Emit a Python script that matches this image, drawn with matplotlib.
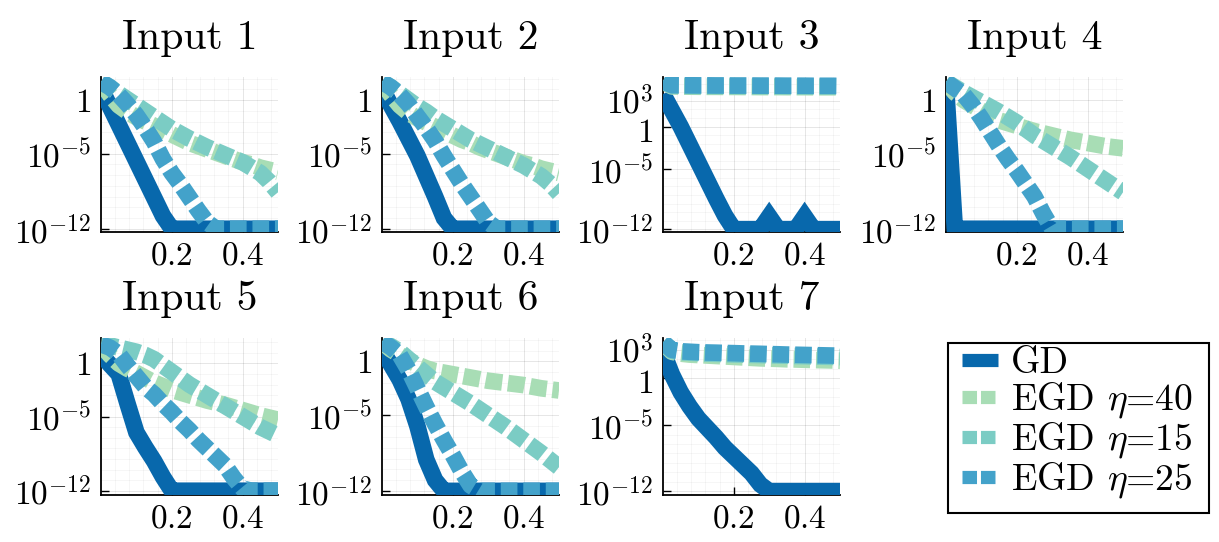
import numpy as np
import matplotlib
matplotlib.use("Agg")
import matplotlib.pyplot as plt
import matplotlib.transforms as mtransforms
from matplotlib.ticker import FixedLocator, NullFormatter
from matplotlib.lines import Line2D
from matplotlib.patches import Rectangle

plt.rcParams['font.family'] = 'cmr10'
plt.rcParams['mathtext.fontset'] = 'cm'
plt.rcParams['axes.formatter.use_mathtext'] = True

# ---------------- data (log10 of the plotted values) ----------------
x = [0.0, 0.025, 0.05, 0.075, 0.1, 0.125, 0.15, 0.175, 0.2, 0.225, 0.25,
     0.275, 0.3, 0.325, 0.35, 0.375, 0.4, 0.425, 0.45, 0.475, 0.5]

titles = ["Input 1", "Input 2", "Input 3", "Input 4", "Input 5", "Input 6", "Input 7"]
series_labels = ["GD", r"EGD $\eta$=40", r"EGD $\eta$=15", r"EGD $\eta$=25"]

gd_1 = [1.1, -0.6, -2.3, -4.0, -5.7, -7.4, -9.1, -10.8, -12, -12, -12, -12, -12, -12, -12, -12, -12, -12, -12, -12, -12]
egd40_1 = [1.7, 0.5, -0.5, -1.1, -1.6, -2.0, -2.4, -2.8, -3.2, -3.6, -4.0, -4.3, -4.6, -4.9, -5.2, -5.5, -5.8, -6.0, -6.3, -6.5, -6.7]
egd15_1 = [1.7, 1.2, 0.6, 0.05, -0.5, -1.05, -1.6, -2.15, -2.7, -3.15, -3.6, -4.0, -4.4, -4.75, -5.1, -5.45, -5.8, -6.3, -6.8, -7.6, -8.6]
egd25_1 = [1.7, 1.2, 0.5, -0.4, -1.4, -2.6, -3.9, -5.5, -6.8, -7.9, -9.1, -10.3, -11.4, -12, -12, -12, -12, -12, -12, -12, -12]

gd_2 = [1.1, -0.5, -2.0, -3.6, -5.2, -7.1, -9.0, -11.0, -12, -12, -12, -12, -12, -12, -12, -12, -12, -12, -12, -12, -12]
egd40_2 = [1.7, 0.5, -0.5, -1.2, -1.7, -2.1, -2.5, -2.9, -3.3, -3.7, -4.0, -4.4, -4.7, -5.0, -5.3, -5.6, -5.9, -6.1, -6.4, -6.6, -6.8]
egd15_2 = [1.7, 1.2, 0.6, 0.0, -0.6, -1.1, -1.7, -2.2, -2.7, -3.2, -3.7, -4.1, -4.5, -4.9, -5.3, -5.7, -6.1, -6.6, -7.1, -7.8, -8.7]
egd25_2 = [1.7, 1.2, 0.5, -0.4, -1.5, -2.6, -3.8, -5.2, -6.5, -7.8, -9.0, -10.2, -11.4, -12, -12, -12, -12, -12, -12, -12, -12]

gd_3 = [3.8, 1.9, 0.0, -2.1, -4.2, -6.3, -8.4, -10.4, -12, -12, -12, -12, -10.5, -12, -12, -12, -10.5, -12, -12, -12, -12]
egd40_3 = [5.3, 4.7, 4.68, 4.67, 4.66, 4.65, 4.65, 4.64, 4.64, 4.63, 4.63, 4.62, 4.62, 4.62, 4.61, 4.61, 4.61, 4.6, 4.6, 4.6, 4.6]
egd15_3 = [5.3, 4.78, 4.77, 4.76, 4.75, 4.75, 4.74, 4.74, 4.74, 4.73, 4.73, 4.73, 4.72, 4.72, 4.72, 4.72, 4.71, 4.71, 4.71, 4.71, 4.7]
egd25_3 = [5.3, 4.85, 4.84, 4.83, 4.82, 4.82, 4.81, 4.81, 4.8, 4.8, 4.8, 4.79, 4.79, 4.79, 4.78, 4.78, 4.78, 4.77, 4.77, 4.77, 4.76]

gd_4 = [1.3, -12, -12, -12, -12, -12, -12, -12, -12, -12, -12, -12, -12, -12, -12, -12, -12, -12, -12, -12, -12]
egd40_4 = [1.7, 0.7, 0.0, -0.5, -1.0, -1.45, -1.9, -2.15, -2.4, -2.65, -2.9, -3.1, -3.3, -3.5, -3.7, -3.85, -4.0, -4.15, -4.3, -4.4, -4.5]
egd15_4 = [1.7, 1.2, 0.7, 0.25, -0.2, -0.65, -1.1, -1.6, -2.1, -2.7, -3.3, -3.8, -4.3, -4.8, -5.3, -5.85, -6.4, -6.95, -7.5, -8.05, -8.6]
egd25_4 = [1.7, 1.1, 0.5, -0.5, -1.7, -3.0, -4.3, -5.5, -6.6, -7.8, -9.0, -10.6, -12, -12, -12, -12, -12, -12, -12, -12, -12]

gd_5 = [0.9, -0.1, -1.0, -3.8, -6.5, -7.9, -9.2, -10.7, -12, -12, -12, -12, -12, -12, -12, -12, -12, -12, -12, -12, -12]
egd40_5 = [1.8, 0.8, 0.0, -0.5, -0.9, -1.35, -1.8, -2.15, -2.5, -2.75, -3.0, -3.25, -3.5, -3.7, -3.9, -4.15, -4.4, -4.65, -4.9, -5.1, -5.3]
egd15_5 = [1.8, 1.7, 1.5, 1.3, 1.1, 0.8, 0.4, -0.2, -0.8, -1.4, -2.0, -2.5, -3.0, -3.5, -4.0, -4.5, -5.0, -5.5, -6.0, -6.4, -6.8]
egd25_5 = [1.8, 1.5, 0.9, -0.2, -1.2, -2.2, -2.9, -3.8, -4.6, -5.5, -6.3, -7.2, -8.0, -8.8, -9.6, -10.8, -11.8, -12, -12, -12, -12]

gd_6 = [1.0, -0.3, -1.7, -3.5, -6.0, -9.1, -11.0, -12, -12, -12, -12, -12, -12, -12, -12, -12, -12, -12, -12, -12, -12]
egd40_6 = [1.8, 1.1, 0.6, 0.1, -0.3, -0.65, -0.9, -1.05, -1.2, -1.35, -1.5, -1.65, -1.8, -1.9, -2.0, -2.1, -2.2, -2.35, -2.5, -2.6, -2.7]
egd15_6 = [1.8, 1.4, 0.9, 0.2, -0.5, -1.2, -1.9, -2.4, -2.9, -3.4, -3.9, -4.45, -5.0, -5.55, -6.1, -6.7, -7.3, -7.9, -8.5, -9.15, -9.8]
egd25_6 = [1.8, 1.3, 0.6, -0.8, -2.5, -4.2, -5.8, -7.3, -8.7, -10.2, -11.5, -12, -12, -12, -12, -12, -12, -12, -12, -12, -12]

gd_7 = [2.8, 0.4, -1.5, -3.0, -4.3, -5.3, -6.3, -7.4, -8.3, -9.2, -10.1, -11.3, -12, -12, -12, -12, -12, -12, -12, -12, -12]
egd40_7 = [3.8, 2.8, 2.6, 2.5, 2.45, 2.4, 2.35, 2.3, 2.25, 2.2, 2.15, 2.1, 2.07, 2.04, 2.0, 1.98, 1.95, 1.92, 1.9, 1.88, 1.85]
egd15_7 = [3.8, 2.9, 2.75, 2.7, 2.65, 2.6, 2.58, 2.55, 2.52, 2.5, 2.47, 2.45, 2.42, 2.4, 2.38, 2.35, 2.33, 2.3, 2.28, 2.26, 2.24]
egd25_7 = [3.8, 3.0, 2.85, 2.8, 2.75, 2.72, 2.7, 2.67, 2.65, 2.62, 2.6, 2.58, 2.55, 2.53, 2.5, 2.48, 2.46, 2.44, 2.42, 2.4, 2.38]

panels = [
    (gd_1, egd40_1, egd15_1, egd25_1),
    (gd_2, egd40_2, egd15_2, egd25_2),
    (gd_3, egd40_3, egd15_3, egd25_3),
    (gd_4, egd40_4, egd15_4, egd25_4),
    (gd_5, egd40_5, egd15_5, egd25_5),
    (gd_6, egd40_6, egd15_6, egd25_6),
    (gd_7, egd40_7, egd15_7, egd25_7),
]

# axis limits (log10) per panel
ylims_log = [(-12.3, 2.15), (-12.3, 2.15), (-12.33, 5.8), (-12.3, 2.15),
             (-12.4, 2.4), (-12.38, 2.16), (-12.41, 4.26)]
ytick_exps_small = [-12, -5, 0]
ytick_exps_big = [-12, -5, 0, 3]
xticks = [0.2, 0.4]
xtick_labels = ["$0.2$", "$0.4$"]

colors = ["#0868ac", "#a8ddb5", "#7bccc4", "#43a2ca"]

# ---------------- figure ----------------
W, H = 1219, 542
fig = plt.figure(figsize=(W / 100, H / 100), dpi=100)

col_left = [101, 382, 663, 946]
ax_w = 177
rows = [(77, 155), (338, 157)]

LW = 12
dash = (0, (1.0, 0.35))

def fy(top, h):
    return 1 - (top + h) / H

for i, data in enumerate(panels):
    r, c = divmod(i, 4)
    top, h = rows[r]
    ax = fig.add_axes([col_left[c] / W, fy(top, h), ax_w / W, h / H])
    gd, e40, e15, e25 = data
    ax.plot(x, 10.0 ** np.array(gd), color=colors[0], lw=LW, solid_joinstyle='miter',
            solid_capstyle='butt', zorder=3)
    for vals, col in zip((e40, e15, e25), colors[1:]):
        ax.plot(x, 10.0 ** np.array(vals), color=col, lw=LW, linestyle=dash,
                dash_capstyle='butt', zorder=3)
    ax.set_yscale('log')
    lo, hi = ylims_log[i]
    ax.set_ylim(10 ** lo, 10 ** hi)
    ax.set_xlim(0, 0.5)
    exps = ytick_exps_big if i in (2, 6) else ytick_exps_small
    ax.set_yticks([10.0 ** e for e in exps])
    ax.set_yticklabels(["$1$" if e == 0 else "$10^{%d}$" % e for e in exps])
    ax.yaxis.set_minor_locator(FixedLocator([10.0 ** k for k in range(-14, 8)]))
    ax.yaxis.set_minor_formatter(NullFormatter())
    ax.set_xticks(xticks)
    ax.set_xticklabels(xtick_labels)
    ax.xaxis.set_minor_locator(FixedLocator([0.04, 0.08, 0.12, 0.16, 0.24, 0.28, 0.32, 0.36, 0.44, 0.48]))
    ax.tick_params(which='major', direction='in', length=6, width=1.0, labelsize=24, pad=7)
    ax.tick_params(which='minor', length=0)
    ax.grid(which='major', color='black', alpha=0.1, lw=0.7)
    ax.grid(which='minor', color='black', alpha=0.05, lw=0.5)
    for s in ('top', 'right'):
        ax.spines[s].set_visible(False)
    for s in ('left', 'bottom'):
        ax.spines[s].set_linewidth(1.3)
    ax.set_axisbelow(True)
    ax.set_title(titles[i], fontsize=30, pad=20)
    if i in (2, 6):
        # the "1" and "10^3" labels sit very close together: nudge them apart a little
        labs = ax.get_yticklabels()
        for lab, e in zip(labs, exps):
            if e == 0:
                lab.set_transform(lab.get_transform() +
                                  mtransforms.ScaledTranslation(0, -2.5 / 72, fig.dpi_scale_trans))
            elif e == 3:
                lab.set_transform(lab.get_transform() +
                                  mtransforms.ScaledTranslation(0, 1.5 / 72, fig.dpi_scale_trans))

# legend: frame drawn as a separate box, entries placed inside
fig.patches.append(Rectangle((948 / W, 1 - 512.7 / H), (1209 - 948) / W, (512.7 - 342.7) / H,
                             transform=fig.transFigure, fill=False, ec='black', lw=1.5))
handles = [Line2D([0], [0], color=colors[0], lw=9.5, solid_capstyle='butt')]
for col in colors[1:]:
    handles.append(Line2D([0], [0], color=col, lw=9.5, linestyle=(0, (1.1, 0.3)),
                          dash_capstyle='butt'))
leg = fig.legend(handles, series_labels, loc='upper left',
                 bbox_to_anchor=(961.5 / W, 1 - 347 / H), bbox_transform=fig.transFigure,
                 frameon=False, fontsize=27,
                 handlelength=0.96, handletextpad=0.36, labelspacing=0.0,
                 borderpad=0.0, borderaxespad=0)

fig.savefig("out.png", dpi=100)
